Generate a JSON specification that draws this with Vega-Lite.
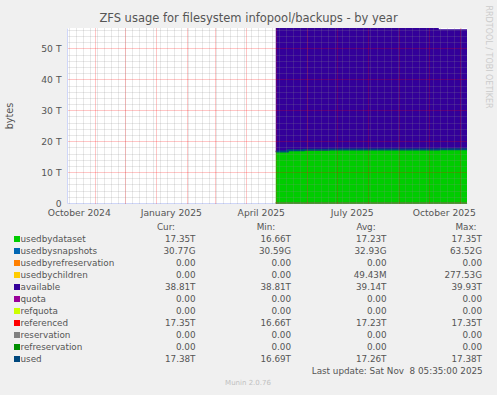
{
  "$schema": "https://vega.github.io/schema/vega-lite/v6.json",
  "width": 400,
  "height": 175,
  "autosize": {"type": "none"},
  "padding": {"left": 67, "top": 28, "right": 30, "bottom": 192},
  "background": "#f0f0f0",
  "view": {"fill": "#ffffff", "stroke": null},
  "config": {
    "font": "DejaVu Sans",
    "axis": {"labelFont": "DejaVu Sans", "titleFont": "DejaVu Sans", "labelColor": "#555555", "titleColor": "#555555", "labelFontSize": 9.2, "titleFontSize": 9.7, "titleFontWeight": "normal"},
    "text": {"font": "DejaVu Sans", "fontSize": 8.8, "color": "#555555"}
  },
  "title": {"text": "ZFS usage for filesystem infopool/backups - by year", "anchor": "middle", "dx": -18.5, "offset": -28, "baseline": "alphabetic", "fontSize": 11.5, "color": "#555555", "fontWeight": "normal", "font": "DejaVu Sans"},
  "datasets": {
    "ts": [
      {"t": "2025-05-01T00:00:00Z", "usedbydataset": 16.66, "usedbysnapshots": 0.031, "usedbyrefreservation": 0, "usedbychildren": 0, "available": 39.93, "quota": 0, "refquota": 0, "referenced": 16.66, "reservation": 0, "refreservation": 0, "used": 16.69},
      {"t": "2025-05-13T00:00:00Z", "usedbydataset": 17.0, "usedbysnapshots": 0.031, "usedbyrefreservation": 0, "usedbychildren": 0, "available": 39.59, "quota": 0, "refquota": 0, "referenced": 17.0, "reservation": 0, "refreservation": 0, "used": 17.03},
      {"t": "2025-05-29T00:00:00Z", "usedbydataset": 17.2, "usedbysnapshots": 0.031, "usedbyrefreservation": 0, "usedbychildren": 0, "available": 39.39, "quota": 0, "refquota": 0, "referenced": 17.2, "reservation": 0, "refreservation": 0, "used": 17.23},
      {"t": "2025-06-23T00:00:00Z", "usedbydataset": 17.3, "usedbysnapshots": 0.031, "usedbyrefreservation": 0, "usedbychildren": 0, "available": 39.29, "quota": 0, "refquota": 0, "referenced": 17.3, "reservation": 0, "refreservation": 0, "used": 17.33},
      {"t": "2025-10-11T00:00:00Z", "usedbydataset": 17.35, "usedbysnapshots": 0.031, "usedbyrefreservation": 0, "usedbychildren": 0, "available": 38.81, "quota": 0, "refquota": 0, "referenced": 17.35, "reservation": 0, "refreservation": 0, "used": 17.38},
      {"t": "2025-11-08T05:35:00Z", "usedbydataset": 17.35, "usedbysnapshots": 0.031, "usedbyrefreservation": 0, "usedbychildren": 0, "available": 38.81, "quota": 0, "refquota": 0, "referenced": 17.35, "reservation": 0, "refreservation": 0, "used": 17.38}
    ],
    "legend": [
      {"n": 1, "name": "usedbydataset", "cur": "17.35T", "min": "16.66T", "avg": "17.23T", "max": "17.35T"},
      {"n": 2, "name": "usedbysnapshots", "cur": "30.77G", "min": "30.59G", "avg": "32.93G", "max": "63.52G"},
      {"n": 3, "name": "usedbyrefreservation", "cur": "0.00", "min": "0.00", "avg": "0.00", "max": "0.00"},
      {"n": 4, "name": "usedbychildren", "cur": "0.00", "min": "0.00", "avg": "49.43M", "max": "277.53G"},
      {"n": 5, "name": "available", "cur": "38.81T", "min": "38.81T", "avg": "39.14T", "max": "39.93T"},
      {"n": 6, "name": "quota", "cur": "0.00", "min": "0.00", "avg": "0.00", "max": "0.00"},
      {"n": 7, "name": "refquota", "cur": "0.00", "min": "0.00", "avg": "0.00", "max": "0.00"},
      {"n": 8, "name": "referenced", "cur": "17.35T", "min": "16.66T", "avg": "17.23T", "max": "17.35T"},
      {"n": 9, "name": "reservation", "cur": "0.00", "min": "0.00", "avg": "0.00", "max": "0.00"},
      {"n": 10, "name": "refreservation", "cur": "0.00", "min": "0.00", "avg": "0.00", "max": "0.00"},
      {"n": 11, "name": "used", "cur": "17.38T", "min": "16.69T", "avg": "17.26T", "max": "17.38T"}
    ],
    "headers": [{"h": "Cur:"}, {"h": "Min:"}, {"h": "Avg:"}, {"h": "Max:"}],
    "footer": [{"txt": "Last update: Sat Nov\u00a0 8 05:35:00 2025"}],
    "version": [{"txt": "Munin 2.0.76"}]
  },
  "layer": [
    {
      "data": {"name": "ts"},
      "layer": [
        {
          "transform": [
            {"fold": ["usedbydataset", "usedbysnapshots", "usedbyrefreservation", "usedbychildren", "available"], "as": ["s", "v"]},
            {"lookup": "s", "from": {"data": {"name": "legend"}, "key": "name", "fields": ["n"]}}
          ],
          "mark": {"type": "area", "interpolate": "step-after"},
          "encoding": {
            "x": {"field": "t", "type": "temporal", "scale": {"type": "utc", "domain": [{"year": 2024, "month": 10, "date": 4, "hours": 5, "minutes": 35, "utc": true}, {"year": 2025, "month": 11, "date": 8, "hours": 5, "minutes": 35, "utc": true}]},
              "axis": {"orient": "bottom", "grid": true, "gridColor": "#8f8f8f", "gridOpacity": 0.4, "gridDash": [1, 1], "tickCount": {"interval": "week", "step": 1}, "labels": false, "ticks": false, "domain": false, "title": null, "zindex": 1}},
            "y": {"field": "v", "type": "quantitative", "stack": "zero", "scale": {"domain": [0, 56.62], "nice": false, "zero": true},
              "axis": {"orient": "left", "grid": true, "gridColor": "#8f8f8f", "gridOpacity": 0.4, "gridDash": [1, 1], "values": [2, 4, 6, 8, 12, 14, 16, 18, 22, 24, 26, 28, 32, 34, 36, 38, 42, 44, 46, 48, 52, 54, 56], "labels": false, "ticks": false, "domain": false, "title": null, "zindex": 1}},
            "color": {"field": "s", "type": "nominal", "legend": null,
              "scale": {"domain": ["usedbydataset", "usedbysnapshots", "usedbyrefreservation", "usedbychildren", "available", "quota", "refquota", "referenced", "reservation", "refreservation", "used"],
                        "range": ["#00CC00", "#0066B3", "#FF8000", "#FFCC00", "#330099", "#990099", "#CCFF00", "#FF0000", "#808080", "#008F00", "#00487D"]}},
            "order": {"field": "n", "type": "quantitative"}
          }
        },
        {
          "transform": [
            {"fold": ["quota", "refquota", "referenced", "reservation", "refreservation"], "as": ["s", "v"]}
          ],
          "mark": {"type": "line", "interpolate": "step-after", "strokeWidth": 1},
          "encoding": {
            "x": {"field": "t", "type": "temporal",
              "axis": {"orient": "bottom", "grid": true, "gridColor": "#ff0000", "gridOpacity": 0.45, "gridDash": [1, 1], "tickCount": {"interval": "month", "step": 1}, "labels": false, "ticks": false, "domain": false, "title": null, "zindex": 1}},
            "y": {"field": "v", "type": "quantitative",
              "axis": {"orient": "left", "values": [0, 10, 20, 30, 40, 50], "grid": true, "gridColor": "#ff0000", "gridOpacity": {"condition": {"test": "datum.value == 0", "value": 0}, "value": 0.45}, "gridDash": [1, 1], "labelExpr": "datum.value == 0 ? '0\u00a0\u00a0' : datum.value + ' T'", "ticks": false, "domain": true, "domainColor": "#CFD6F8", "labelPadding": 6, "title": "bytes", "titlePadding": 26, "zindex": 1}},
            "color": {"field": "s", "type": "nominal", "legend": null}
          }
        },
        {
          "transform": [
            {"fold": ["used"], "as": ["s", "v"]}
          ],
          "mark": {"type": "line", "interpolate": "step-after", "strokeWidth": 2},
          "encoding": {
            "x": {"field": "t", "type": "temporal",
              "axis": {"orient": "bottom", "values": [{"year": 2024, "month": 10, "date": 16, "utc": true}, {"year": 2025, "month": 1, "date": 16, "utc": true}, {"year": 2025, "month": 4, "date": 16, "utc": true}, {"year": 2025, "month": 7, "date": 16, "utc": true}, {"year": 2025, "month": 10, "date": 16, "utc": true}],
                "labelExpr": "utcFormat(datum.value, '%B %Y')", "labelOverlap": false, "labelFlush": false, "grid": false, "ticks": false, "domain": true, "domainColor": "#CFD6F8", "labelPadding": 5, "title": null, "zindex": 0}},
            "y": {"field": "v", "type": "quantitative",
              "axis": {"orient": "right", "title": "RRDTOOL / TOBI OETIKER", "labels": false, "ticks": false, "domain": false, "grid": false, "titleAngle": 90, "titleColor": "#cccccc", "titleFontSize": 8, "titleX": 20, "titleY": -23, "titleAlign": "left", "titleBaseline": "middle"}},
            "color": {"field": "s", "type": "nominal", "legend": null}
          }
        }
      ],
      "resolve": {"axis": {"x": "independent", "y": "independent"}}
    },
    {
      "layer": [
        {
          "data": {"name": "legend"},
          "mark": {"type": "square", "size": 36, "opacity": 1, "filled": true},
          "encoding": {
            "x": {"datum": "sw", "type": "ordinal", "scale": {"type": "point", "domain": ["sw", "nm"], "range": [-50, -46.5], "padding": 0}, "axis": null},
            "y": {"field": "name", "type": "ordinal", "scale": {"type": "point", "domain": ["hdr", "usedbydataset", "usedbysnapshots", "usedbyrefreservation", "usedbychildren", "available", "quota", "refquota", "referenced", "reservation", "refreservation", "used", "upd", "ver"], "range": [199, 355], "padding": 0}, "axis": null},
            "color": {"field": "name", "type": "nominal", "legend": null}
          }
        },
        {
          "data": {"name": "legend"},
          "mark": {"type": "text", "align": "left", "baseline": "middle"},
          "encoding": {
            "x": {"datum": "nm", "type": "ordinal", "scale": {"type": "point", "domain": ["sw", "nm"], "range": [-50, -46.5], "padding": 0}, "axis": null},
            "y": {"field": "name", "type": "ordinal", "axis": null},
            "text": {"field": "name"}
          }
        },
        {
          "data": {"name": "legend"},
          "transform": [{"fold": ["cur", "min", "avg", "max"], "as": ["col", "val"]}],
          "mark": {"type": "text", "align": "right", "baseline": "middle"},
          "encoding": {
            "x": {"field": "col", "type": "ordinal", "scale": {"type": "point", "domain": ["cur", "min", "avg", "max"], "range": [128.5, 415], "padding": 0}, "axis": null},
            "y": {"field": "name", "type": "ordinal", "axis": null},
            "text": {"field": "val"}
          }
        },
        {
          "data": {"name": "headers"},
          "mark": {"type": "text", "align": "center", "baseline": "middle"},
          "encoding": {
            "x": {"field": "h", "type": "ordinal", "scale": {"type": "point", "domain": ["Cur:", "Min:", "Avg:", "Max:"], "range": [99, 399], "padding": 0}, "axis": null},
            "y": {"datum": "hdr", "type": "ordinal", "axis": null},
            "text": {"field": "h"}
          }
        },
        {
          "data": {"name": "footer"},
          "mark": {"type": "text", "align": "right", "baseline": "middle"},
          "encoding": {
            "x": {"datum": "max", "type": "ordinal", "scale": {"type": "point", "domain": ["cur", "min", "avg", "max"], "range": [129, 415.7], "padding": 0}, "axis": null},
            "y": {"datum": "upd", "type": "ordinal", "axis": null},
            "text": {"field": "txt"}
          }
        },
        {
          "data": {"name": "version"},
          "mark": {"type": "text", "align": "center", "baseline": "middle", "fontSize": 7, "color": "#c0c0c0"},
          "encoding": {
            "x": {"datum": "ver", "type": "ordinal", "scale": {"type": "point", "domain": ["ver"], "range": [181, 181], "padding": 0.5}, "axis": null},
            "y": {"datum": "ver", "type": "ordinal", "axis": null},
            "text": {"field": "txt"}
          }
        }
      ],
      "resolve": {"scale": {"x": "independent"}}
    }
  ],
  "resolve": {"scale": {"x": "independent", "y": "independent"}, "axis": {"x": "independent", "y": "independent"}}
}
